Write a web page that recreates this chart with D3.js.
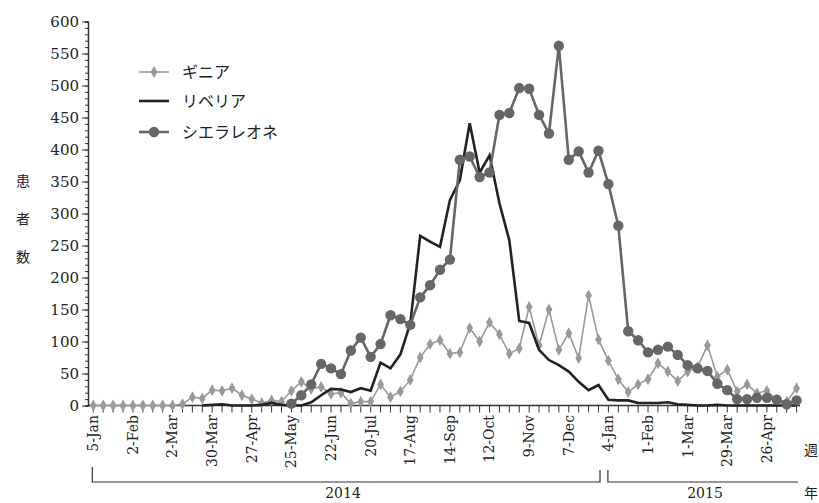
<!DOCTYPE html>
<html>
<head>
<meta charset="utf-8">
<script src="https://cdn.jsdelivr.net/npm/d3@7"></script>
<style>
  body { margin: 0; background: #fff; }
  text { font-family: "DejaVu Serif", serif; fill: #222; }
  .jp { font-family: "Noto Sans CJK JP", sans-serif; }
</style>
</head>
<body>
<div id="chart"></div>
<script>
// weekly cases, week 0 = 5-Jan-2014 ... week 71 = 17-May-2015
var guinea = [0,0,0,0,0,0,0,0,0,2,13,11,24,23,27,16,10,4,8,6,
  23,37,26,29,18,20,3,6,6,33,13,22,40,75,96,102,81,83,121,100,
  130,111,81,89,154,94,150,87,113,74,172,103,70,41,21,33,41,66,53,38,
  53,60,94,45,56,22,33,19,23,9,6,27];
var liberia = [null,null,null,null,null,null,null,null,null,null,null,0,1,2,0,0,0,1,4,1,
  0,0,5,16,26,25,21,27,23,67,58,80,128,265,256,248,321,352,441,364,
  391,316,258,132,129,87,71,63,53,37,24,32,9,8,8,4,4,4,5,2,
  1,0,0,1,0,0,0,0,0,0,0,0];
var sierraLeone = [null,null,null,null,null,null,null,null,null,null,null,null,null,null,null,null,null,null,null,null,
  3,16,33,65,58,49,86,106,76,96,141,135,126,169,188,212,228,384,389,357,
  364,454,457,496,495,454,425,562,384,397,364,398,346,281,116,102,83,87,92,79,
  63,58,54,34,24,10,10,12,12,9,2,8];
var tickLabels = ["5-Jan","2-Feb","2-Mar","30-Mar","27-Apr","25-May","22-Jun","20-Jul","17-Aug",
  "14-Sep","12-Oct","9-Nov","7-Dec","4-Jan","1-Feb","1-Mar","29-Mar","26-Apr"];
var yTicks = [0,50,100,150,200,250,300,350,400,450,500,550,600];
var seriesNames = ["ギニア","リベリア","シエラレオネ"];

var width = 819, height = 503;

var svg = d3.select("#chart")
    .append("svg")
    .attr("width", width)
    .attr("height", height);

var x = d3.scaleLinear()
    .domain([0, guinea.length - 1])
    .range([93.3, 796.6]);

var y = d3.scaleLinear()
    .domain([0, 600])
    .range([405.5, 21.5]);

// y axis
var yAxis = svg.append("g")
    .attr("transform", "translate(88,0)")
    .call(d3.axisLeft(y).tickValues(d3.range(0, 601, 10)).tickSize(3).tickFormat(""));
yAxis.selectAll("line").attr("stroke", "#333");
yAxis.select(".domain").attr("stroke", "#333").attr("stroke-width", 1.5);

var yMajor = svg.append("g")
    .attr("transform", "translate(88,0)")
    .call(d3.axisLeft(y).tickValues(yTicks).tickSize(6).tickPadding(3));
yMajor.select(".domain").remove();
yMajor.selectAll("line").attr("stroke", "#333");
yMajor.selectAll("text")
    .style("font-family", "DejaVu Serif, serif")
    .style("font-size", "15px")
    .attr("fill", "#222");

// x axis
svg.append("line")
    .attr("x1", 88).attr("x2", 800)
    .attr("y1", y(0)).attr("y2", y(0))
    .attr("stroke", "#333").attr("stroke-width", 1.5);

svg.append("g").selectAll("line")
    .data(d3.range(guinea.length))
    .enter().append("line")
    .attr("x1", function (d) { return x(d); })
    .attr("x2", function (d) { return x(d); })
    .attr("y1", y(0)).attr("y2", y(0) + 7)
    .attr("stroke", "#333");

svg.append("g").selectAll("text")
    .data(tickLabels)
    .enter().append("text")
    .attr("transform", function (d, i) {
        return "translate(" + x(i * 4) + ",415) rotate(-90)";
    })
    .attr("text-anchor", "end")
    .attr("dy", "0.35em")
    .style("font-size", "14px")
    .text(function (d) { return d; });

// year brackets
var bracket = svg.append("g").attr("fill", "none").attr("stroke", "#333").attr("stroke-width", 1.2);
bracket.append("path").attr("d", "M" + (x(0) - 1) + ",467V482H600V470");
bracket.append("path").attr("d", "M" + (x(52) - 0.5) + ",470V482H798");
svg.append("text").attr("x", 343).attr("y", 498).attr("text-anchor", "middle")
    .style("font-size", "14px").text("2014");
svg.append("text").attr("x", 705).attr("y", 498).attr("text-anchor", "middle")
    .style("font-size", "14px").text("2015");

svg.append("text").attr("class", "jp").attr("x", 804).attr("y", 455)
    .style("font-size", "14px").text("週");
svg.append("text").attr("class", "jp").attr("x", 804).attr("y", 498)
    .style("font-size", "14px").text("年");

// y label
svg.append("g").selectAll("text")
    .data(["患", "者", "数"])
    .enter().append("text")
    .attr("class", "jp")
    .attr("x", 23)
    .attr("y", function (d, i) { return 186 + i * 38; })
    .attr("text-anchor", "middle")
    .style("font-size", "14px")
    .text(function (d) { return d; });

// lines
var line = d3.line()
    .defined(function (d) { return d != null; })
    .x(function (d, i) { return x(i); })
    .y(function (d) { return y(d); });

var diamond = d3.symbol().type(d3.symbolDiamond).size(40);

svg.append("path")
    .datum(guinea)
    .attr("fill", "none")
    .attr("stroke", "#999")
    .attr("stroke-width", 1.6)
    .attr("d", line);
svg.append("g").selectAll("path")
    .data(guinea)
    .enter().append("path")
    .attr("d", diamond)
    .attr("transform", function (d, i) { return "translate(" + x(i) + "," + y(d) + ")"; })
    .attr("fill", "#999");

svg.append("path")
    .datum(liberia)
    .attr("fill", "none")
    .attr("stroke", "#222")
    .attr("stroke-width", 2.6)
    .attr("stroke-linejoin", "miter")
    .attr("d", line);

svg.append("path")
    .datum(sierraLeone)
    .attr("fill", "none")
    .attr("stroke", "#666")
    .attr("stroke-width", 2.6)
    .attr("d", line);
svg.append("g").selectAll("circle")
    .data(sierraLeone.map(function (d, i) { return [i, d]; }).filter(function (d) { return d[1] != null; }))
    .enter().append("circle")
    .attr("cx", function (d) { return x(d[0]); })
    .attr("cy", function (d) { return y(d[1]); })
    .attr("r", 5.2)
    .attr("fill", "#666");

// legend
var legendY = [72, 101, 132];
var legend = svg.append("g");
legend.append("line").attr("x1", 139).attr("x2", 169).attr("y1", legendY[0]).attr("y2", legendY[0])
    .attr("stroke", "#999").attr("stroke-width", 1.6);
legend.append("path").attr("d", diamond).attr("transform", "translate(154," + legendY[0] + ")").attr("fill", "#999");
legend.append("line").attr("x1", 139).attr("x2", 169).attr("y1", legendY[1]).attr("y2", legendY[1])
    .attr("stroke", "#222").attr("stroke-width", 2.6);
legend.append("line").attr("x1", 139).attr("x2", 169).attr("y1", legendY[2]).attr("y2", legendY[2])
    .attr("stroke", "#666").attr("stroke-width", 2.6);
legend.append("circle").attr("cx", 154).attr("cy", legendY[2]).attr("r", 5.2).attr("fill", "#666");
legend.selectAll("text")
    .data(seriesNames)
    .enter().append("text")
    .attr("class", "jp")
    .attr("x", 182)
    .attr("y", function (d, i) { return legendY[i]; })
    .attr("dy", "0.35em")
    .style("font-size", "16px")
    .text(function (d) { return d; });
</script>
</body>
</html>
